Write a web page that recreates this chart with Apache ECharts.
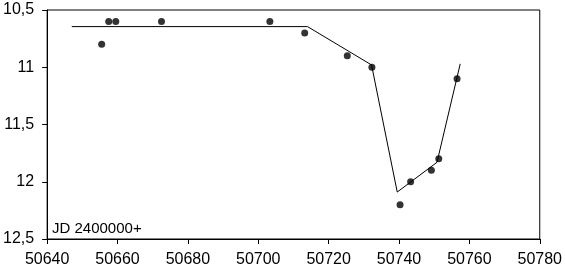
<!DOCTYPE html>
<html>
<head>
<meta charset="utf-8">
<script src="https://cdn.jsdelivr.net/npm/echarts@6/dist/echarts.min.js"></script>
<style>
html,body{margin:0;padding:0;background:#fff;}
#c{width:565px;height:273px;}
</style>
</head>
<body>
<div id="c"></div>
<script>
// Observations (JD - 2400000, magnitude)
const obsJD  = [50655.5, 50657.5, 50659.5, 50672.5, 50703.3, 50713.2, 50725.3, 50732.3, 50740.3, 50743.3, 50749.2, 50751.3, 50756.5];
const obsMag = [10.8, 10.6, 10.6, 10.6, 10.6, 10.7, 10.9, 11.0, 12.2, 12.0, 11.9, 11.8, 11.1];
// Fitted light-curve polyline
const fitJD  = [50647, 50714, 50732.2, 50739.5, 50750.8, 50757.4];
const fitMag = [10.645, 10.645, 10.98, 12.09, 11.83, 10.97];
// Axis settings
const xMin = 50640, xMax = 50780, xStep = 20;
const yMin = 10.5, yMax = 12.5, yStep = 0.5;
const axisNote = 'JD 2400000+';

const font = '"Liberation Sans", Arial, sans-serif';
const chart = echarts.init(document.getElementById('c'), null, {renderer: 'canvas'});
chart.setOption({
  animation: false,
  backgroundColor: '#fff',
  grid: {left: 44, right: 24, top: 10, bottom: 34, show: true, borderColor: '#000', borderWidth: 1, backgroundColor: 'transparent'},
  xAxis: {
    type: 'value', min: xMin, max: xMax, interval: xStep,
    axisLine: {show: true, lineStyle: {color: '#000', width: 1}},
    axisTick: {show: true, length: 5, lineStyle: {color: '#000'}},
    axisLabel: {color: '#000', fontFamily: font, fontSize: 16, margin: 13,
      formatter: v => String(v)},
    splitLine: {show: false}
  },
  yAxis: {
    type: 'value', min: yMin, max: yMax, interval: yStep, inverse: true,
    axisLine: {show: true, lineStyle: {color: '#000', width: 1}},
    axisTick: {show: true, length: 5, lineStyle: {color: '#000'}},
    axisLabel: {color: '#000', fontFamily: font, fontSize: 16, margin: 13,
      formatter: v => String(+v.toFixed(1)).replace('.', ',')},
    splitLine: {show: false}
  },
  graphic: [{
    type: 'text', left: 52, top: 221,
    style: {text: axisNote, fill: '#000', font: '15px ' + font}
  }],
  series: [
    {
      type: 'line', data: fitJD.map((x, i) => [x, fitMag[i]]),
      symbol: 'none', lineStyle: {color: '#000', width: 1}, silent: true
    },
    {
      type: 'scatter', data: obsJD.map((x, i) => [x, obsMag[i]]),
      symbol: 'circle', symbolSize: 7, itemStyle: {color: '#000'}
    }
  ]
});
</script>
</body>
</html>
